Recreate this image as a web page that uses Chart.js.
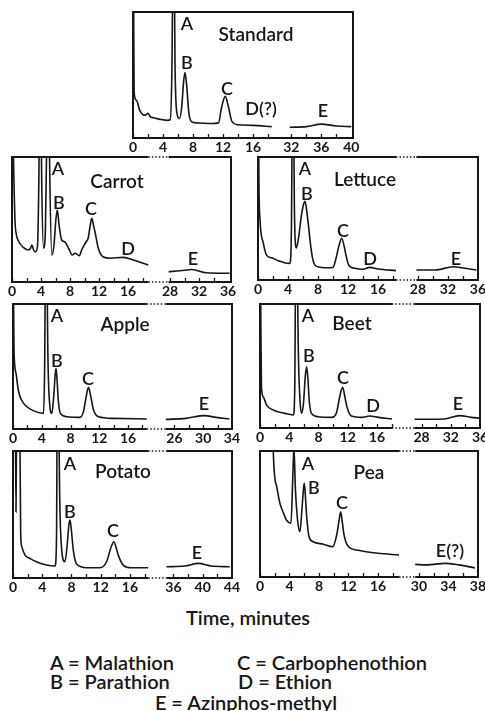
<!DOCTYPE html>
<html>
<head>
<meta charset="utf-8">
<script src="https://cdn.jsdelivr.net/npm/chart.js@4.4.0/dist/chart.umd.min.js"></script>
<style>
  body { margin: 0; background: #fff; }
  #page { position: relative; width: 485px; height: 711px; overflow: hidden;
          font-family: Lato, "Open Sans", sans-serif; color: #161616; }
  #page canvas { position: absolute; }
  .tag { position: absolute; transform: translate(-50%, -50%); white-space: nowrap; line-height: 1; }
  .peak { font-size: 18px; font-weight: 600; }
  .title { font-size: 19px; font-weight: 600; }
  .axis-title { font-size: 20px; font-weight: 600; }
  .legend { position: absolute; transform: translateY(-50%); font-size: 20px; font-weight: 600; white-space: nowrap; line-height: 1; }
</style>
</head>
<body>
<div id="page"></div>
<script>
// retention time (min) and detector response (% of panel height); null marks the broken axis
const standardTime   = [0, 0.15, 0.45, 0.9, 1.6, 2.0, 2.3, 2.7, 3.5, 4.6, 4.95, 5.2, 5.4, 5.6, 5.85, 6.2, 6.5, 6.75, 6.93, 7.15, 7.45, 7.8, 8.5, 10.5, 11.4, 11.8, 12.3, 12.75, 13.2, 14, 16, 18.5, 22, 31.8, 34, 36, 38, 40];
const standardSignal = [200, 36, 30, 22, 18, 19.6, 17, 16, 15, 14, 14.5, 60, 200, 60, 20, 15.5, 25, 45, 52, 42, 20, 13, 12, 11.5, 12, 24, 33, 24, 13, 10.5, 10, 9, null, 8.5, 9, 11, 9.5, 9];

const carrotTime   = [0, 0.15, 0.41, 0.6, 0.87, 1.56, 2.25, 2.55, 2.75, 2.95, 3.2, 3.5, 3.7, 3.9, 4.1, 4.35, 4.6, 4.8, 5.0, 5.2, 5.5, 5.8, 6.05, 6.25, 6.5, 6.85, 7.3, 7.8, 8.3, 8.7, 9.3, 9.6, 10.2, 10.5, 10.75, 11.0, 11.25, 11.45, 11.9, 12.6, 13.5, 15.4, 16.7, 18.8, 22, 27.8, 29.4, 31.0, 33.0, 36.2];
const carrotSignal = [200, 120, 50, 38, 33, 27.7, 25.6, 27, 29.6, 26, 24, 28, 80, 200, 80, 27, 40, 120, 200, 90, 21.5, 30, 50, 57.6, 45, 33.6, 32, 27, 21.6, 23, 21, 25.6, 32, 35, 44, 51, 45, 40, 27, 20, 19, 19.7, 17.6, 13.6, null, 8.3, 9, 10, 7.4, 7];

const lettuceTime   = [0, 0.12, 0.27, 0.71, 1.16, 1.8, 2.7, 3.8, 4.25, 4.45, 4.65, 4.85, 5.1, 5.4, 5.75, 6.05, 6.27, 6.5, 6.75, 7.0, 7.3, 7.7, 8.9, 10.0, 10.4, 10.8, 11.16, 11.5, 11.7, 12.1, 12.9, 14.0, 14.9, 16.0, 18.4, 22, 27.8, 30.3, 32.7, 34.3, 35.8];
const lettuceSignal = [200, 80, 49, 30, 20, 18, 15.7, 13.6, 13.5, 40, 200, 60, 26, 34, 51, 61, 64, 56, 43, 29, 17, 11.5, 10, 10.2, 17.6, 28, 34, 27, 21, 12, 9.5, 8.8, 10.3, 9, 7.6, null, 8.1, 8.1, 10.8, 9.5, 8.1];

const appleTime   = [0, 0.08, 0.14, 0.42, 0.74, 1.2, 1.9, 2.8, 4.25, 4.4, 4.6, 4.85, 5.1, 5.4, 5.65, 5.85, 5.98, 6.12, 6.3, 6.6, 7.5, 9.3, 9.8, 10.15, 10.5, 10.85, 11.2, 11.9, 14, 18.6, 22, 24.8, 27.6, 30.2, 31.8, 33.65];
const appleSignal = [200, 100, 63, 44.5, 31, 23, 18, 14.7, 12.5, 50, 200, 60, 20, 12.5, 25, 42, 48.5, 40, 23, 12.5, 9.8, 9.3, 13.9, 25, 33.3, 25, 15.2, 9.8, 8.5, 8, null, 7.7, 8.5, 10.7, 9.3, 8];

const beetTime   = [0, 0.12, 0.2, 0.46, 0.9, 1.8, 3.4, 4.56, 4.75, 4.95, 5.25, 5.5, 5.7, 5.95, 6.2, 6.38, 6.55, 6.75, 7.05, 7.96, 9.8, 10.5, 10.9, 11.3, 11.65, 11.9, 12.5, 13.9, 15.0, 16.2, 18.05, 22, 27.04, 31.1, 33.2, 34.8, 35.9];
const beetSignal = [200, 80, 33, 25, 18.5, 14.5, 11.8, 10.5, 30, 200, 60, 20, 11.8, 20, 42, 49.4, 40, 21, 11.8, 9.1, 8.6, 13, 25, 32.8, 24, 17, 9.7, 8.6, 9.7, 8.6, 7.3, null, 7, 7.3, 10, 8.6, 8];

const potatoTime   = [0, 0.3, 0.41, 0.52, 0.7, 0.9, 1.05, 1.2, 1.65, 2.3, 3.2, 4.6, 5.75, 5.95, 6.1, 6.4, 6.7, 7.1, 7.4, 7.65, 7.8, 7.98, 8.25, 8.7, 10.1, 11.9, 12.8, 13.4, 13.8, 14.2, 14.4, 15.1, 16.2, 18.5, 25, 35.05, 37.56, 39.4, 41.2, 43.7];
const potatoSignal = [200, 150, 52, 150, 200, 150, 35, 24.7, 18, 15.5, 12.8, 10.2, 9.4, 30, 200, 60, 20, 12.8, 25, 42, 45.7, 38, 22, 11, 8.1, 8.1, 12.8, 24, 28.6, 22, 18, 10, 8.1, 8.1, null, 8.9, 9.4, 11.5, 9.4, 8.9];

const peaTime   = [1.6, 1.8, 2.26, 2.7, 3.2, 3.6, 4.2, 4.45, 4.6, 4.8, 5.1, 5.42, 5.7, 5.9, 6.0, 6.15, 6.33, 6.65, 7.2, 8.6, 9.85, 10.4, 10.75, 10.94, 11.15, 11.4, 12.0, 13.1, 16.0, 18.85, 25, 29.5, 31.1, 33.55, 35.4, 37.6];
const peaSignal = [200, 100, 71.7, 58.5, 50.5, 45, 42.6, 80, 103, 70, 45, 36, 55, 70, 74.3, 65, 48, 32, 28, 26, 24, 33.3, 46, 51.8, 44, 33.3, 24, 21.4, 18.8, 17.5, null, 10, 9.6, 10.8, 9.6, 7.2];

// labelled times on each axis
const standardTicks = [0, 4, 8, 12, 16, 32, 36, 40];
const carrotTicks   = [0, 4, 8, 12, 16, 28, 32, 36];
const lettuceTicks  = [0, 4, 8, 12, 16, 28, 32, 36];
const appleTicks    = [0, 4, 8, 12, 16, 26, 30, 34];
const beetTicks     = [0, 4, 8, 12, 16, 28, 32, 36];
const potatoTicks   = [0, 4, 8, 12, 16, 36, 40, 44];
const peaTicks      = [0, 4, 8, 12, 16, 30, 34, 38];

const INK = '#161616';
const CUT = 21; // times above this belong to the late part of the run

// frame box, visible span and how much time the axis break removes
const panels = [
  { name: 'Standard', time: standardTime, signal: standardSignal, ticks: standardTicks,
    box: [133, 12, 220, 126], span: 29.33, skip: 10.9, dotted: false,
    peaks: [['A', 187, 23], ['B', 187, 62], ['C', 227, 88], ['D(?)', 261, 108], ['E', 323, 110]], title: [256, 33] },
  { name: 'Carrot', time: carrotTime, signal: carrotSignal, ticks: carrotTicks,
    box: [12, 157, 219, 125], span: 30.2, skip: 6.2, dotted: true,
    peaks: [['A', 58, 168], ['B', 59, 202], ['C', 91, 208], ['D', 128, 248], ['E', 193, 258]], title: [117, 180] },
  { name: 'Lettuce', time: lettuceTime, signal: lettuceSignal, ticks: lettuceTicks,
    box: [258, 157, 220, 123], span: 29.33, skip: 6.68, dotted: true,
    peaks: [['A', 305, 168], ['B', 307, 193], ['C', 343, 230], ['D', 370, 258], ['E', 456, 258]], title: [365, 178] },
  { name: 'Apple', time: appleTime, signal: appleSignal, ticks: appleTicks,
    box: [13, 304, 219, 125], span: 30.46, skip: 3.55, dotted: true,
    peaks: [['A', 57, 315], ['B', 57, 360], ['C', 88, 378], ['E', 204, 403]], title: [125, 323] },
  { name: 'Beet', time: beetTime, signal: beetSignal, ticks: beetTicks,
    box: [260, 304, 220, 124], span: 30.1, skip: 5.9, dotted: true,
    peaks: [['A', 308, 315], ['B', 309, 355], ['C', 343, 377], ['D', 373, 405], ['E', 458, 403]], title: [352, 322] },
  { name: 'Potato', time: potatoTime, signal: potatoSignal, ticks: potatoTicks,
    box: [13, 451, 219, 127], span: 29.96, skip: 14.05, dotted: true,
    peaks: [['A', 70, 463], ['B', 70, 511], ['C', 113, 530], ['E', 197, 552]], title: [123, 470] },
  { name: 'Pea', time: peaTime, signal: peaSignal, ticks: peaTicks,
    box: [260, 451, 218, 126], span: 29.56, skip: 8.45, dotted: true,
    peaks: [['A', 308, 463], ['B', 314, 487], ['C', 342, 502], ['E(?)', 450, 550]], title: [369, 471] }
];

const page = document.getElementById('page');

function addText(cls, text, x, y) {
  const el = document.createElement('div');
  el.className = cls;
  el.textContent = text;
  el.style.left = x + 'px';
  el.style.top = y + 'px';
  page.appendChild(el);
  return el;
}

// frame with dotted break, and small inward ticks every 2 min
const framePlugin = {
  id: 'frame',
  afterDatasetsDraw(chart, args, opts) {
    const { ctx, chartArea: a, scales: { x } } = chart;
    const g0 = x.getPixelForValue(opts.gap[0]);
    const g1 = x.getPixelForValue(opts.gap[1]);
    ctx.save();
    ctx.strokeStyle = INK;
    ctx.lineCap = 'butt';

    ctx.lineWidth = 1.3;
    ctx.beginPath();
    opts.minor.forEach(v => {
      const px = Math.round(x.getPixelForValue(v)) + 0.5;
      ctx.moveTo(px, a.bottom);
      ctx.lineTo(px, a.bottom - 4);
    });
    ctx.stroke();

    ctx.lineWidth = 2;
    ctx.beginPath();
    ctx.moveTo(a.left, a.top - 1);
    ctx.lineTo(a.left, a.bottom + 1);
    ctx.moveTo(a.right, a.top - 1);
    ctx.lineTo(a.right, a.bottom + 1);
    [a.top, a.bottom].forEach(y => {
      if (opts.dotted) {
        ctx.moveTo(a.left, y); ctx.lineTo(g0, y);
        ctx.moveTo(g1, y); ctx.lineTo(a.right, y);
      } else {
        ctx.moveTo(a.left, y); ctx.lineTo(a.right, y);
      }
    });
    ctx.stroke();

    if (opts.dotted) {
      ctx.lineWidth = 1.5;
      ctx.setLineDash([1.5, 2]);
      ctx.beginPath();
      [a.top, a.bottom].forEach(y => { ctx.moveTo(g0, y); ctx.lineTo(g1, y); });
      ctx.stroke();
    }
    ctx.restore();
  }
};

panels.forEach(p => {
  const [left, top, w, h] = p.box;
  const pos = t => (t < CUT ? t : t - p.skip);
  const tickPos = p.ticks.map(pos);

  // gap edges come from the last early and first late reading
  const br = p.signal.indexOf(null);
  const gap = [pos(p.time[br - 1]), pos(p.time[br + 1])];

  const early = p.ticks.filter(t => t < CUT);
  const late = p.ticks.filter(t => t >= CUT);
  const minor = [];
  for (let t = early[0]; t <= 18; t += 2) minor.push(pos(t));
  for (let t = late[0]; t < late[late.length - 1]; t += 2) minor.push(pos(t));

  const canvas = document.createElement('canvas');
  canvas.width = w + 30;
  canvas.height = h + 24;
  canvas.style.left = (left - 15) + 'px';
  canvas.style.top = (top - 2) + 'px';
  page.appendChild(canvas);

  new Chart(canvas, {
    type: 'line',
    data: {
      datasets: [{
        data: p.time.map((t, i) => ({ x: pos(t), y: p.signal[i] })),
        borderColor: INK,
        borderWidth: 1.6,
        pointRadius: 0,
        cubicInterpolationMode: 'monotone',
        spanGaps: false,
        fill: false
      }]
    },
    options: {
      responsive: false,
      animation: false,
      devicePixelRatio: 1,
      layout: { padding: { left: 15, right: 15, top: 2, bottom: 0 } },
      plugins: {
        legend: { display: false },
        tooltip: { enabled: false },
        frame: { gap: gap, minor: minor, dotted: p.dotted }
      },
      scales: {
        x: {
          type: 'linear',
          min: 0,
          max: p.span,
          border: { display: false },
          grid: { display: false, drawTicks: false },
          afterBuildTicks: scale => { scale.ticks = tickPos.map(v => ({ value: v })); },
          afterFit: scale => { scale.height = 22; },
          ticks: {
            autoSkip: false,
            maxRotation: 0,
            padding: 1,
            color: INK,
            font: { family: 'Lato', size: 14, weight: 'bold' },
            callback: (v, i) => String(p.ticks[i])
          }
        },
        y: { display: false, min: 0, max: 100 }
      }
    },
    plugins: [framePlugin]
  });

  addText('tag title', p.name, p.title[0], p.title[1]);
  p.peaks.forEach(([k, x, y]) => addText('tag peak', k, x, y));
});

addText('tag axis-title', 'Time, minutes', 248, 617);

const legendRows = [
  ['A = Malathion', 50, 662], ['C = Carbophenothion', 237, 662],
  ['B = Parathion', 50, 681], ['D = Ethion', 238, 681]
];
legendRows.forEach(([t, x, y]) => addText('legend', t, x, y));
const last = addText('tag', 'E = Azinphos-methyl', 246, 702);
last.style.fontSize = '20px';
last.style.fontWeight = '600';
</script>
</body>
</html>
